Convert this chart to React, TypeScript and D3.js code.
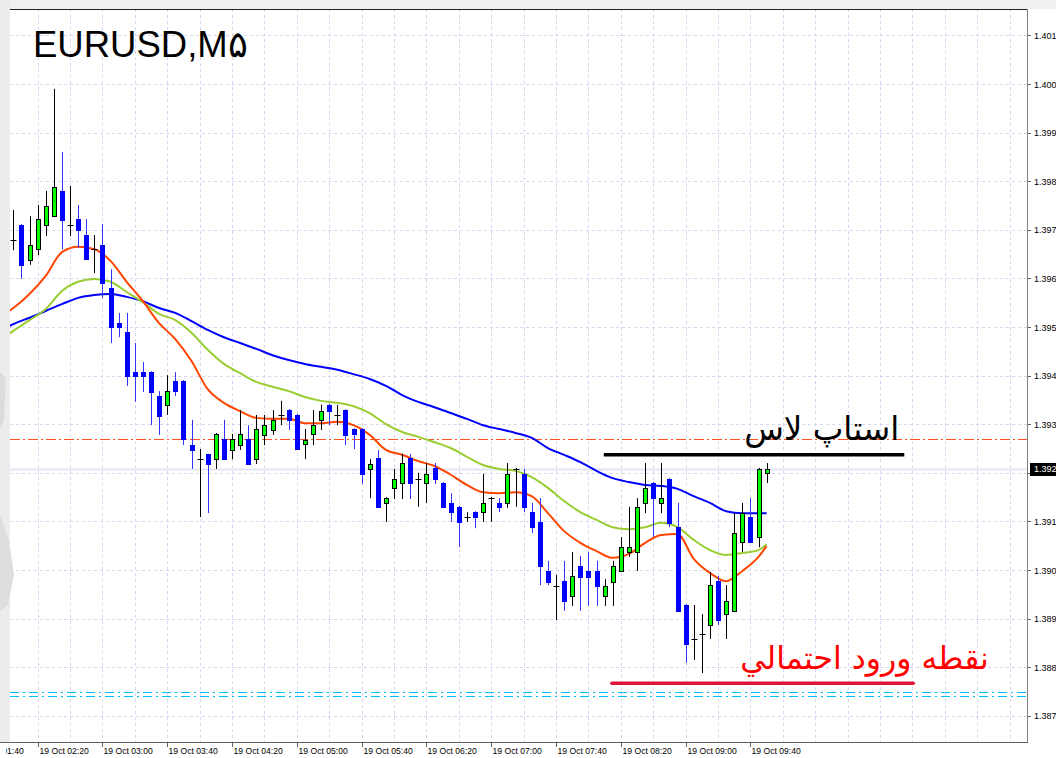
import React from 'react';
import * as d3 from 'd3';

// ---- EURUSD M5 candles (bars 0..93) ----
const openP = [1.39679,1.39710,1.39638,1.39660,1.39710,1.39728,1.39780,1.39710,1.39722,1.39689,
1.39660,1.39669,1.39580,1.39508,1.39490,1.39407,1.39407,1.39407,1.39358,1.39340,
1.39389,1.39389,1.39257,1.39228,1.39239,1.39228,1.39270,1.39247,1.39257,1.39270,
1.39228,1.39278,1.39288,1.39319,1.39329,1.39319,1.39259,1.39280,1.39309,1.39340,
1.39319,1.39329,1.39290,1.39290,1.39208,1.39230,1.39138,1.39169,1.39179,1.39230,
1.39187,1.39179,1.39210,1.39179,1.39138,1.39130,1.39109,1.39119,1.39119,1.39148,
1.39138,1.39138,1.39208,1.39198,1.39119,1.39099,1.38998,1.38967,1.38977,1.38947,
1.39008,1.38998,1.38998,1.38947,1.38975,1.38998,1.39037,1.39037,1.39138,1.39179,
1.39138,1.39187,1.39088,1.38928,1.38858,1.38868,1.38887,1.38977,1.38909,1.38916,
1.39058,1.39109,1.39068,1.39200];
const highP = [1.39741,1.39712,1.39728,1.39751,1.39780,1.39990,1.39860,1.39790,1.39751,1.39722,
1.39689,1.39712,1.39619,1.39529,1.39529,1.39467,1.39428,1.39409,1.39368,1.39401,
1.39407,1.39391,1.39309,1.39249,1.39239,1.39282,1.39309,1.39280,1.39329,1.39298,
1.39319,1.39319,1.39329,1.39348,1.39331,1.39321,1.39290,1.39329,1.39340,1.39342,
1.39340,1.39331,1.39292,1.39292,1.39228,1.39247,1.39150,1.39208,1.39239,1.39239,
1.39200,1.39220,1.39220,1.39181,1.39158,1.39132,1.39119,1.39121,1.39198,1.39150,
1.39148,1.39220,1.39210,1.39208,1.39138,1.39148,1.39019,1.38990,1.39019,1.39037,
1.39029,1.39037,1.39019,1.38981,1.39019,1.39068,1.39130,1.39148,1.39220,1.39181,
1.39220,1.39189,1.39138,1.38930,1.38928,1.38909,1.38996,1.38988,1.38969,1.39117,
1.39138,1.39148,1.39210,1.39220];
const lowP = [1.39658,1.39599,1.39628,1.39648,1.39687,1.39726,1.39660,1.39687,1.39663,1.39638,
1.39611,1.39560,1.39467,1.39479,1.39379,1.39346,1.39366,1.39298,1.39278,1.39319,
1.39358,1.39257,1.39208,1.39109,1.39117,1.39208,1.39226,1.39228,1.39247,1.39216,
1.39218,1.39257,1.39278,1.39298,1.39288,1.39247,1.39228,1.39257,1.39288,1.39298,
1.39298,1.39257,1.39249,1.39177,1.39148,1.39128,1.39099,1.39146,1.39146,1.39146,
1.39130,1.39138,1.39177,1.39128,1.39099,1.39047,1.39099,1.39086,1.39099,1.39099,
1.39119,1.39128,1.39130,1.39119,1.39076,1.38969,1.38969,1.38897,1.38916,1.38926,
1.38916,1.38926,1.38926,1.38926,1.38926,1.38996,1.39027,1.38998,1.39117,1.39068,
1.39117,1.39088,1.38914,1.38809,1.38815,1.38788,1.38858,1.38887,1.38858,1.38914,
1.39037,1.39056,1.39047,1.39179];
const closeP = [1.39679,1.39628,1.39669,1.39722,1.39749,1.39788,1.39720,1.39710,1.39700,1.39640,
1.39660,1.39591,1.39500,1.39500,1.39399,1.39399,1.39399,1.39366,1.39317,1.39368,
1.39368,1.39270,1.39247,1.39228,1.39218,1.39280,1.39228,1.39270,1.39280,1.39218,
1.39290,1.39298,1.39309,1.39319,1.39309,1.39249,1.39267,1.39298,1.39327,1.39327,
1.39319,1.39278,1.39280,1.39198,1.39218,1.39130,1.39148,1.39187,1.39220,1.39179,
1.39187,1.39198,1.39187,1.39130,1.39119,1.39099,1.39109,1.39109,1.39138,1.39148,
1.39130,1.39198,1.39208,1.39130,1.39088,1.39008,1.38975,1.38967,1.38936,1.38988,
1.38986,1.38986,1.38967,1.38967,1.39008,1.39047,1.39047,1.39130,1.39169,1.39148,
1.39148,1.39097,1.38916,1.38848,1.38858,1.38868,1.38969,1.38897,1.38936,1.39076,
1.39117,1.39058,1.39208,1.39208];

// ---- moving averages, sampled at these bars ----
const maBars = [-0.5,0,2,4,6,8,10,12,14,16,18,20,22,24,26,28,30,32,34,36,38,40,42,44,46,48,50,52,54,56,58,60,62,64,66,68,70,72,74,76,78,80,82,84,86,88,90,92,93];
const maFast = [1.39533,1.39539,1.39568,1.39605,1.39654,1.39665,1.39660,1.39636,1.39593,1.39553,1.39508,
1.39475,1.39430,1.39372,1.39344,1.39327,1.39313,1.39311,1.39311,1.39302,1.39302,
1.39305,1.39298,1.39278,1.39247,1.39237,1.39224,1.39214,1.39196,1.39175,1.39160,
1.39158,1.39160,1.39152,1.39117,1.39080,1.39056,1.39039,1.39025,1.39033,1.39056,
1.39072,1.39074,1.39023,1.38994,1.38977,1.38998,1.39027,1.39049];
const maMid = [1.39486,1.39492,1.39514,1.39537,1.39574,1.39593,1.39599,1.39593,1.39572,1.39551,1.39527,
1.39514,1.39488,1.39453,1.39424,1.39405,1.39387,1.39377,1.39368,1.39356,1.39348,
1.39344,1.39337,1.39323,1.39300,1.39284,1.39274,1.39263,1.39251,1.39233,1.39216,
1.39208,1.39204,1.39191,1.39169,1.39142,1.39119,1.39103,1.39088,1.39084,1.39088,
1.39097,1.39088,1.39062,1.39041,1.39031,1.39035,1.39041,1.39053];
const maSlow = [1.39502,1.39506,1.39519,1.39533,1.39547,1.39560,1.39566,1.39568,1.39562,1.39553,1.39539,
1.39529,1.39512,1.39494,1.39479,1.39467,1.39455,1.39442,1.39432,1.39424,1.39418,
1.39412,1.39403,1.39393,1.39379,1.39360,1.39346,1.39335,1.39323,1.39311,1.39298,
1.39290,1.39282,1.39272,1.39251,1.39237,1.39222,1.39204,1.39189,1.39181,1.39175,
1.39173,1.39167,1.39152,1.39138,1.39121,1.39117,1.39117,1.39117];

// ---- axes ----
const priceTicks = [1.401,1.400,1.399,1.398,1.397,1.396,1.395,1.394,1.393,1.392,1.391,1.390,1.389,1.388,1.387];
const timeTickBars = [-5,3,11,19,27,35,43,51,59,67,75,83,91];
const timeTickLabels = ["19 Oct 01:40","19 Oct 02:20","19 Oct 03:00","19 Oct 03:40","19 Oct 04:20","19 Oct 05:00","19 Oct 05:40","19 Oct 06:20","19 Oct 07:00","19 Oct 07:40","19 Oct 08:20","19 Oct 09:00","19 Oct 09:40"];

// ---- levels / annotations ----
const bidPrice = 1.39208;
const orangeLevel = 1.39270;
const cyanLevels = [1.38749, 1.38741];
const stopLevel = 1.39237;
const stopBars = [72.9, 110];
const entryLevel = 1.38767;
const entryBars = [73.9, 111.1];
const stopText = "استاپ لاس";
const entryText = "نقطه ورود احتمالي";
const title = "EURUSD,M۵";

const W = 1056, H = 758;
const L = 10, T = 9, R = 1027, B = 742;

export default function App() {
  const x = d3.scaleLinear().domain([0, 93]).range([13.3, 766.6]);
  const y = d3.scaleLinear().domain([1.387, 1.4]).range([715.8, 84]);
  const px = (i: number) => Math.round(x(i)) + 0.5;
  const py = (p: number) => Math.round(y(p)) + 0.5;

  const gridBars = d3.range(-1, 126, 4);
  const line = d3.line<[number, number]>().x(d => x(d[0])).y(d => y(d[1])).curve(d3.curveMonotoneX);
  const maPath = (vals: number[]) => line(maBars.map((b, k) => [b, vals[k]] as [number, number])) || '';

  const font = "'Liberation Sans', Arial, sans-serif";
  const arabicFont = "Tahoma, 'DejaVu Sans', sans-serif";

  return (
    <div style={{ position: 'absolute', left: 0, top: 0, width: W, height: H, overflow: 'hidden' }}>
      <svg width={W} height={H} style={{ display: 'block' }}>
        <defs>
          <clipPath id="plot"><rect x={L} y={T} width={R - L} height={B - T} /></clipPath>
          <clipPath id="axisClip"><rect x={R + 1} y={0} width={W - R - 1} height={B} /></clipPath>
          <clipPath id="timeClip"><rect x={6} y={B + 1} width={R - 6} height={H - B} /></clipPath>
        </defs>
        <rect x={0} y={0} width={W} height={H} fill="#fff" />
        <rect x={0} y={0} width={W} height={T} fill="#f0f0f0" />
        <rect x={0} y={0} width={L} height={B} fill="#ececec" />
        <path d="M0,372 L6,378 L4,420 L0,428 Z" fill="#dcdcdc" />
        <path d="M0,515 L9,540 L14,575 L8,605 L0,612 Z" fill="#dedede" />
        <g clipPath="url(#plot)">
          {gridBars.map(b => (
            <line key={'gv' + b} x1={px(b)} x2={px(b)} y1={T} y2={B} stroke="#d6d6f0" strokeDasharray="3,3" />
          ))}
          {priceTicks.map(p => (
            <line key={'gh' + p} x1={L} x2={R} y1={py(p)} y2={py(p)} stroke="#d6d6f0" strokeDasharray="3,3" />
          ))}
          <line x1={L} x2={R} y1={py(bidPrice)} y2={py(bidPrice)} stroke="#e4e4f4" strokeWidth={2} />
          <line x1={L} x2={R} y1={py(orangeLevel)} y2={py(orangeLevel)} stroke="#ff5020" strokeWidth={1.2} strokeDasharray="10,3,2,3" />
          {cyanLevels.map(p => (
            <line key={'c' + p} x1={L} x2={R} y1={py(p)} y2={py(p)} stroke="#00bfff" strokeDasharray="9,4,2,4" />
          ))}
          <path d={maPath(maSlow)} fill="none" stroke="#0000ff" strokeWidth={2} />
          <path d={maPath(maMid)} fill="none" stroke="#9acd32" strokeWidth={2} />
          <path d={maPath(maFast)} fill="none" stroke="#ff4500" strokeWidth={2} />
          {openP.map((o, i) => {
            const c = closeP[i], h = highP[i], l = lowP[i];
            const cx = px(i);
            if (o === c) {
              return (
                <g key={'k' + i}>
                  <line x1={cx} x2={cx} y1={y(h)} y2={y(l)} stroke="#000" />
                  <line x1={cx - 3} x2={cx + 3} y1={py(o)} y2={py(o)} stroke="#000" />
                </g>
              );
            }
            if (c > o) {
              const top = Math.round(y(c)), bot = Math.round(y(o));
              return (
                <g key={'k' + i}>
                  <line x1={cx} x2={cx} y1={y(h)} y2={y(l)} stroke="#000" />
                  <rect x={cx - 2} y={top + 0.5} width={4} height={Math.max(1, bot - top)} fill="#00ff00" stroke="#000" />
                </g>
              );
            }
            const top = Math.round(y(o)), bot = Math.round(y(c));
            return (
              <g key={'k' + i}>
                <line x1={cx} x2={cx} y1={y(h)} y2={y(l)} stroke="#3333ff" />
                <rect x={cx - 2.5} y={top} width={5} height={Math.max(2, bot - top + 1)} fill="#0000ff" />
              </g>
            );
          })}
          <line x1={x(stopBars[0])} x2={x(stopBars[1])} y1={y(stopLevel)} y2={y(stopLevel)} stroke="#000" strokeWidth={3.5} />
          <line x1={x(entryBars[0])} x2={x(entryBars[1])} y1={y(entryLevel)} y2={y(entryLevel)} stroke="#dc143c" strokeWidth={3.5} strokeLinecap="round" />
          <text x={x(99.8)} y={y(1.39267)} textAnchor="middle" direction="rtl" fontFamily={arabicFont} fontSize={32.5} fill="#000">{stopText}</text>
          <text x={x(105.1)} y={y(1.38796)} textAnchor="middle" direction="rtl" fontFamily={arabicFont} fontSize={31.5} fill="#ff0000">{entryText}</text>
        </g>
        {/* frame */}
        <line x1={L} x2={R + 1} y1={T + 0.5} y2={T + 0.5} stroke="#222" />
        <line x1={R + 0.5} x2={R + 0.5} y1={T} y2={B + 1} stroke="#808080" />
        <line x1={0} x2={R + 1} y1={B + 0.5} y2={B + 0.5} stroke="#606060" />
        {/* price axis */}
        <g clipPath="url(#axisClip)">
          {priceTicks.map(p => (
            <g key={'pt' + p}>
              <line x1={R} x2={R + 4} y1={py(p)} y2={py(p)} stroke="#606060" />
              <text x={1034} y={y(p) + 3.5} fontFamily={font} fontSize={9} fill="#000">{p.toFixed(3)}</text>
            </g>
          ))}
          <rect x={1030} y={Math.round(y(bidPrice)) - 6} width={30} height={13} fill="#000" />
          <text x={1034} y={y(bidPrice) + 3.5} fontFamily={font} fontSize={9} fill="#fff">{bidPrice.toFixed(3)}</text>
        </g>
        {/* time axis */}
        <g clipPath="url(#timeClip)">
          {timeTickBars.map((b, k) => (
            <g key={'tt' + b}>
              <line x1={px(b)} x2={px(b)} y1={B} y2={B + 5} stroke="#606060" />
              <text x={px(b) + 1} y={754} fontFamily={font} fontSize={8.6} fill="#000">{timeTickLabels[k]}</text>
            </g>
          ))}
        </g>
        <text x={33} y={57} fontFamily={font} fontSize={36.5} fill="#000">{title}</text>
      </svg>
    </div>
  );
}
